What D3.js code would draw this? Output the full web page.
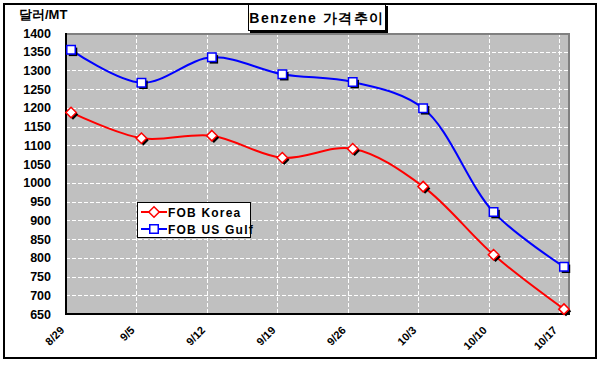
<!DOCTYPE html>
<html>
<head>
<meta charset="utf-8">
<script src="https://cdn.jsdelivr.net/npm/d3@7"></script>
<style>
  body { margin:0; background:#fff; }
  svg text { font-family: Arial, "Liberation Sans", sans-serif; font-weight:bold; fill:#000; }
</style>
</head>
<body>
<svg id="chart" width="601" height="367"></svg>
<script>
// weekly quotes, $/MT
const dates = ["2008-08-29","2008-09-05","2008-09-12","2008-09-19","2008-09-26","2008-10-03","2008-10-10","2008-10-17"];
const tickLabels = ["8/29","9/5","9/12","9/19","9/26","10/3","10/10","10/17"];
const fobKorea  = [1188, 1119, 1126, 1067, 1091, 990, 808, 663];
const fobUsGulf = [1355, 1267, 1335, 1290, 1269, 1199, 922, 776];
const yTicks = d3.range(650, 1401, 50);

const parse = d3.utcParse("%Y-%m-%d");
const days = dates.map(parse);

const svg = d3.select("#chart");

// outer frame
svg.append("rect").attr("x",4).attr("y",4).attr("width",592).attr("height",354)
    .attr("fill","#fff").attr("stroke","#000").attr("stroke-width",2);

const m = {left:66, top:33, right:569, bottom:314};

// Excel date axis: each day is a slot, point sits in the middle of its day
const x = d3.scaleUtc()
    .domain([days[0], d3.utcDay.offset(days[days.length-1], 1)])
    .range([m.left, m.right]);
const xp = d => x(d3.utcHour.offset(d, 12));
const y = d3.scaleLinear().domain([650, 1400]).range([m.bottom, m.top]);

// plot area
svg.append("rect").attr("x",m.left).attr("y",m.top)
    .attr("width",m.right-m.left).attr("height",m.bottom-m.top)
    .attr("fill","#c0c0c0");

// grid
const grid = svg.append("g").attr("stroke","#fff").attr("stroke-width",1).attr("stroke-dasharray","4,2");
grid.selectAll("line.h").data(yTicks.filter(v => v > 650 && v < 1400)).join("line")
    .attr("class","h")
    .attr("x1",m.left).attr("x2",m.right)
    .attr("y1",d => Math.round(y(d))+0.5).attr("y2",d => Math.round(y(d))+0.5);
grid.selectAll("line.v").data(days.slice(1)).join("line")
    .attr("class","v")
    .attr("x1",d => Math.round(x(d))+0.5).attr("x2",d => Math.round(x(d))+0.5)
    .attr("y1",m.top).attr("y2",m.bottom);

// plot border: gray top/right, black axes
svg.append("path").attr("d",`M${m.left},${m.top+1}H${m.right}V${m.bottom}`)
    .attr("fill","none").attr("stroke","#808080").attr("stroke-width",2);
svg.append("path").attr("d",`M${m.left},${m.top}V${m.bottom}H${m.right+1}`)
    .attr("fill","none").attr("stroke","#000").attr("stroke-width",2);

// y axis labels
svg.append("g").selectAll("text").data(yTicks).join("text")
    .attr("x",51).attr("y",d => y(d)+4.5)
    .attr("text-anchor","end").attr("font-size",12.5)
    .text(d => d);

svg.append("text").attr("x",19).attr("y",19).attr("font-size",13).text("달러/MT");

// x axis labels, rotated
svg.append("g").selectAll("text").data(days).join("text")
    .attr("transform",(d) => `translate(${x(d)-1},${m.bottom+17}) rotate(-45)`)
    .attr("text-anchor","end").attr("font-size",11)
    .text((d,i) => tickLabels[i]);

// lines
const line = d3.line()
    .x((d,i) => xp(days[i]))
    .y(d => y(d))
    .curve(d3.curveCatmullRom.alpha(0.5));

const series = [
  {name:"FOB Korea", values:fobKorea, color:"#ff0000", shape:"diamond"},
  {name:"FOB US Gulf", values:fobUsGulf, color:"#0000ff", shape:"square"}
];

const sym = {
  diamond: d3.symbol().type(d3.symbolDiamond2).size(70),
  square: d3.symbol().type(d3.symbolSquare).size(72)
};
function marker(g, s, cx, cy, shadow) {
  if (shadow) {
    g.append("path").attr("d", sym[s.shape]())
      .attr("transform",`translate(${cx+2},${cy+2})`).attr("fill","#000");
  }
  g.append("path").attr("d", sym[s.shape]())
    .attr("transform",`translate(${cx},${cy})`)
    .attr("fill","#fff").attr("stroke",s.color).attr("stroke-width",1.5);
}

series.forEach(s => {
  svg.append("path").datum(s.values).attr("d", line)
    .attr("fill","none").attr("stroke",s.color).attr("stroke-width",2);
  const g = svg.append("g");
  s.values.forEach((v,i) => marker(g, s, xp(days[i]), y(v), true));
});

// legend
const lg = svg.append("g");
lg.append("rect").attr("x",137.5).attr("y",202.5).attr("width",113).attr("height",35)
  .attr("fill","#fff").attr("stroke","#000");
series.forEach((s,i) => {
  const cy = 212 + i*17;
  lg.append("line").attr("x1",141).attr("x2",167).attr("y1",cy).attr("y2",cy)
    .attr("stroke",s.color).attr("stroke-width",2);
  marker(lg, s, 154, cy, false);
  lg.append("text").attr("x",168).attr("y",cy+4.5).attr("font-size",12)
    .attr("letter-spacing",1.2).text(s.name);
});

// title box with shadow
svg.append("rect").attr("x",250).attr("y",6).attr("width",138).attr("height",27).attr("fill","#000");
svg.append("rect").attr("x",248.5).attr("y",4.5).attr("width",137).attr("height",26)
  .attr("fill","#fff").attr("stroke","#000");
svg.append("text").attr("x",317).attr("y",23).attr("text-anchor","middle")
  .attr("font-size",14).attr("letter-spacing",1.5).text("Benzene 가격추이");
</script>
</body>
</html>
